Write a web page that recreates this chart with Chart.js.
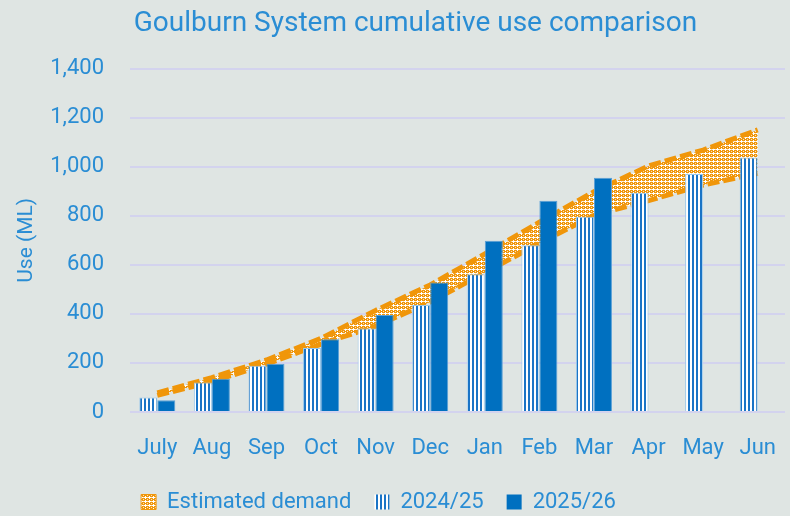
<!DOCTYPE html>
<html><head><meta charset="utf-8">
<script src="https://cdn.jsdelivr.net/npm/chart.js@4/dist/chart.umd.min.js"></script>
<style>html,body{margin:0;padding:0;background:#dfe5e3;}#wrap{width:790px;height:516px;}</style>
</head><body><div id="wrap"><canvas id="c" width="790" height="516"></canvas></div>
<script>
const months = ['July','Aug','Sep','Oct','Nov','Dec','Jan','Feb','Mar','Apr','May','Jun'];
const use2024 = [59,120,189,261,340,436,562,680,796,894,970,1038];
const use2025 = [48,136,197,297,395,528,698,861,955,null,null,null];
const demandLow  = [68,123,195,277,350,448,568,688,802,862,925,973];
const demandHigh = [78,140,212,300,414,518,644,774,898,1003,1068,1150];
const yMin = 0, yMax = 1400, yStep = 200;
const titleText = 'Goulburn System cumulative use comparison';
const yTitle = 'Use (ML)';
const legendNames = ['Estimated demand','2024/25','2025/26'];

const BLUE_TXT = '#2a8dd4';
const BAR_BLUE = '#0070c0';
const ORANGE = '#f0960a';
const FONT = "Roboto,'Noto Sans',sans-serif";
const ST = 'condensed';

const canvas = document.getElementById('c');
const ctx = canvas.getContext('2d');

function makeStripe(){
  const c=document.createElement('canvas');c.width=4;c.height=4;
  const g=c.getContext('2d');
  g.fillStyle='#ffffff';g.fillRect(0,0,4,4);
  g.fillStyle='#1a74c6';g.fillRect(0,0,2,4);
  return ctx.createPattern(c,'repeat');
}
function makeBand(){
  const c=document.createElement('canvas');c.width=4;c.height=4;
  const g=c.getContext('2d');
  g.fillStyle=ORANGE;g.fillRect(0,0,4,4);
  g.fillStyle='#ffffff';
  g.fillRect(1,0,1,1);g.fillRect(0,1,3,1);g.fillRect(1,2,1,1);
  g.fillStyle='#fbe3bd';g.fillRect(3,3,1,1);g.fillRect(3,1,1,1);
  return ctx.createPattern(c,'repeat');
}
const stripe = makeStripe();
const band = makeBand();

const shiftBoxes = {
  id:'shiftBoxes',
  afterLayout(chart){
    if(chart.titleBlock){chart.titleBlock.left+=17;chart.titleBlock.right+=17;}
    if(chart.legend){chart.legend.left-=20;chart.legend.right-=20;
      (chart.legend.legendHitBoxes||[]).forEach(h=>{h.left-=20;});}
  }
};

new Chart(ctx,{
  data:{
    labels: months,
    datasets:[
      {type:'line',label:'demandLow',data:demandLow,borderColor:ORANGE,borderWidth:5,borderDash:[12,4],
       pointRadius:0,fill:false,tension:0,order:2},
      {type:'line',label:legendNames[0],data:demandHigh,borderColor:ORANGE,borderWidth:5,borderDash:[12,4],
       pointRadius:0,fill:'-1',backgroundColor:band,tension:0,order:2},
      {type:'bar',label:legendNames[1],data:use2024,backgroundColor:stripe,borderColor:'#9cc8ea',borderWidth:1,
       categoryPercentage:0.66,barPercentage:1,order:1},
      {type:'bar',label:legendNames[2],data:use2025,backgroundColor:BAR_BLUE,borderColor:'#5a9fd6',borderWidth:1,
       categoryPercentage:0.66,barPercentage:1,order:1}
    ]
  },
  plugins:[shiftBoxes],
  options:{
    responsive:false,animation:false,
    layout:{padding:{left:12,right:5,top:0,bottom:-7}},
    plugins:{
      title:{display:true,text:titleText,color:BLUE_TXT,font:{family:FONT,size:28,style:ST,weight:'normal'},padding:{top:7,bottom:28}},
      tooltip:{enabled:false},
      legend:{position:'bottom',
        labels:{color:BLUE_TXT,font:{family:FONT,size:22,style:ST},boxWidth:15,boxHeight:15,padding:23,
          generateLabels:()=>[
            {text:legendNames[0],fillStyle:band,strokeStyle:ORANGE,lineWidth:1,datasetIndex:1,fontColor:BLUE_TXT},
            {text:legendNames[1],fillStyle:stripe,strokeStyle:'rgba(0,0,0,0)',lineWidth:0,datasetIndex:2,fontColor:BLUE_TXT},
            {text:legendNames[2],fillStyle:BAR_BLUE,strokeStyle:'rgba(0,0,0,0)',lineWidth:0,datasetIndex:3,fontColor:BLUE_TXT}
          ]}}
    },
    scales:{
      x:{grid:{display:false,drawTicks:false},border:{display:false},
         afterFit:s=>{s.height=56;s.paddingLeft=0;s.paddingRight=0;},
         ticks:{color:BLUE_TXT,font:{family:FONT,size:22,style:ST},padding:23}},
      y:{min:yMin,max:yMax,grid:{color:'#d3d3ee',lineWidth:2,drawTicks:false},border:{display:false},
         afterFit:s=>{s.width=118;},
         ticks:{stepSize:yStep,color:BLUE_TXT,font:{family:FONT,size:22,style:ST},padding:26,
           callback:v=>v.toLocaleString('en-US')},
         title:{display:true,text:yTitle,color:BLUE_TXT,font:{family:FONT,size:21,style:ST},padding:{top:2,bottom:0}}}
    }
  }
});
</script></body></html>
